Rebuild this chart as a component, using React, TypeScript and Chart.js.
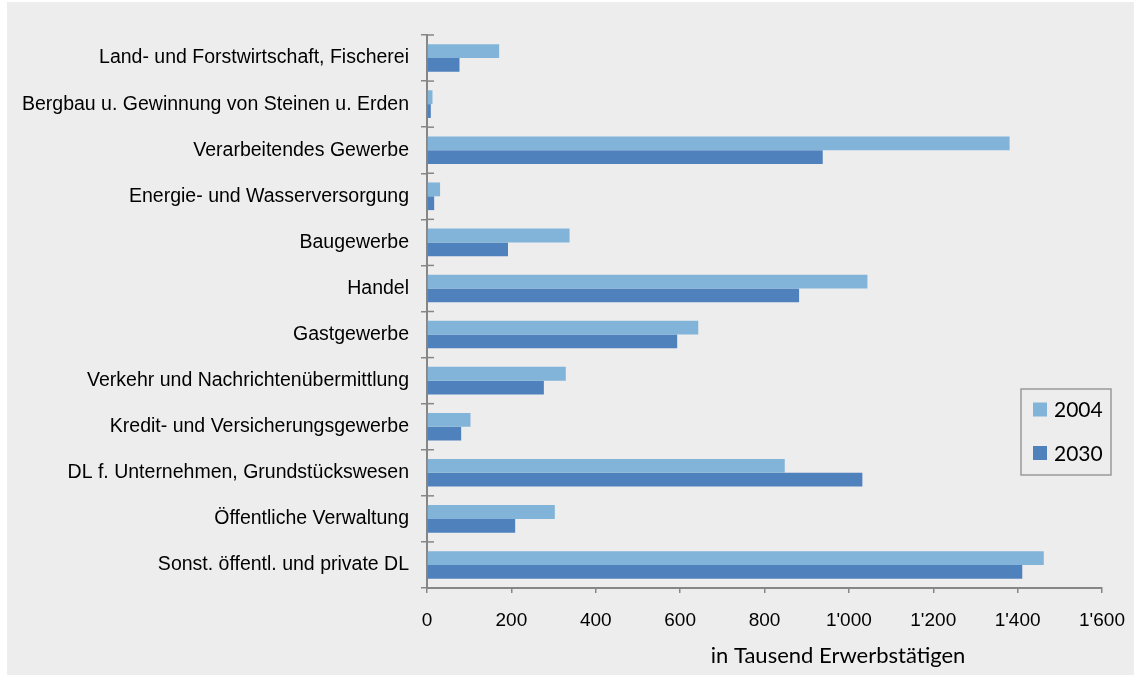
import React, { useEffect, useRef } from "react";
import { Chart, registerables } from "chart.js";

Chart.register(...registerables);

const categories = [
  "Land- und Forstwirtschaft, Fischerei",
  "Bergbau u. Gewinnung von Steinen u. Erden",
  "Verarbeitendes Gewerbe",
  "Energie- und Wasserversorgung",
  "Baugewerbe",
  "Handel",
  "Gastgewerbe",
  "Verkehr und Nachrichtenübermittlung",
  "Kredit- und Versicherungsgewerbe",
  "DL f. Unternehmen, Grundstückswesen",
  "Öffentliche Verwaltung",
  "Sonst. öffentl. und private DL",
];

const values2004 = [171, 13, 1381, 31, 338, 1044, 643, 329, 103, 848, 303, 1462];
const values2030 = [77, 9, 938, 17, 192, 882, 593, 277, 81, 1032, 209, 1411];
const seriesLabels = ["2004", "2030"];
const xMin = 0;
const xMax = 1600;
const xStep = 200;
const axisTitle = "in Tausend Erwerbstätigen";

const COLOR_2004 = "#82b3d9";
const COLOR_2030 = "#4f81bd";
const AXIS = "#868686";
const W = 1127;
const H = 673;

const fmt = (v: number) => {
  const s = String(Math.round(v));
  return s.replace(/\B(?=(\d{3})+(?!\d))/g, "'");
};

const decorPlugin = {
  id: "decor",
  afterDraw(chart: any) {
    const ctx = chart.ctx as CanvasRenderingContext2D;
    const ca = chart.chartArea;
    const yScale = chart.scales.y;
    const n = chart.data.labels.length;
    ctx.save();
    // inner half of the crossing category tick marks
    ctx.strokeStyle = AXIS;
    ctx.lineWidth = 1.5;
    for (let i = 0; i <= n; i++) {
      const py = yScale.getPixelForValue(i - 0.5);
      ctx.beginPath();
      ctx.moveTo(ca.left, py);
      ctx.lineTo(ca.left + 7, py);
      ctx.stroke();
    }
    // axis title
    ctx.fillStyle = "#000";
    ctx.font = "22px Lato";
    ctx.textAlign = "center";
    ctx.textBaseline = "middle";
    ctx.fillText(axisTitle, ca.left + 0.609 * (ca.right - ca.left), chart.scales.x.bottom - 19);
    // legend box
    const bx = ca.right - 81;
    const by = ca.top + 354;
    const bw = 90;
    const bh = 86;
    ctx.strokeStyle = "#999999";
    ctx.lineWidth = 1.5;
    ctx.strokeRect(bx, by, bw, bh);
    const ds = chart.data.datasets;
    const rowCenters = [by + 20.5, by + 64];
    ds.forEach((d: any, i: number) => {
      const cy = rowCenters[i];
      ctx.fillStyle = d.backgroundColor;
      ctx.fillRect(bx + 12, cy - 7, 14, 14);
      ctx.fillStyle = "#000";
      ctx.textAlign = "left";
      ctx.font = "21px Lato";
      ctx.fillText(d.label, bx + 33, cy + 1);
    });
    ctx.restore();
  },
};

export default function App() {
  const ref = useRef<HTMLCanvasElement | null>(null);

  useEffect(() => {
    if (!ref.current) return;
    const chart = new Chart(ref.current, {
      type: "bar",
      data: {
        labels: categories,
        datasets: [
          {
            label: seriesLabels[0],
            data: values2004,
            backgroundColor: COLOR_2004,
            borderWidth: 0,
            categoryPercentage: 0.6,
            barPercentage: 1.0,
          },
          {
            label: seriesLabels[1],
            data: values2030,
            backgroundColor: COLOR_2030,
            borderWidth: 0,
            categoryPercentage: 0.6,
            barPercentage: 1.0,
          },
        ],
      },
      options: {
        indexAxis: "y",
        responsive: false,
        devicePixelRatio: 1,
        animation: false,
        layout: { padding: { top: 33, right: 32, left: 0, bottom: 0 } },
        plugins: {
          legend: { display: false },
          tooltip: { enabled: false },
          title: { display: false },
        },
        scales: {
          x: {
            type: "linear",
            min: xMin,
            max: xMax,
            ticks: {
              stepSize: xStep,
              padding: 16,
              color: "#000",
              font: { family: "'Liberation Sans', Arial, sans-serif", size: 19 },
              callback: (v: any) => fmt(Number(v)),
            },
            grid: {
              display: true,
              drawOnChartArea: false,
              drawTicks: true,
              tickLength: 5,
              color: AXIS,
              lineWidth: 1.5,
            },
            border: { display: true, color: AXIS, width: 2 },
            afterFit: (scale: any) => {
              scale.height = 87;
              scale.paddingLeft = 0;
              scale.paddingRight = 0;
            },
          },
          y: {
            type: "category",
            ticks: {
              padding: 12,
              color: "#000",
              font: { family: "'Liberation Sans', Arial, sans-serif", size: 19.5 },
            },
            grid: {
              display: true,
              drawOnChartArea: false,
              drawTicks: true,
              tickLength: 6,
              color: AXIS,
              lineWidth: 1.5,
            },
            border: { display: true, color: AXIS, width: 2 },
            afterFit: (scale: any) => {
              scale.width = 420;
            },
          },
        },
      },
      plugins: [decorPlugin],
    } as any);
    return () => chart.destroy();
  }, []);

  return (
    <div
      style={{
        position: "fixed",
        left: 7,
        top: 2,
        width: W,
        height: H,
        background: "#ededed",
      }}
    >
      <canvas ref={ref} width={W} height={H} style={{ display: "block" }} />
    </div>
  );
}
